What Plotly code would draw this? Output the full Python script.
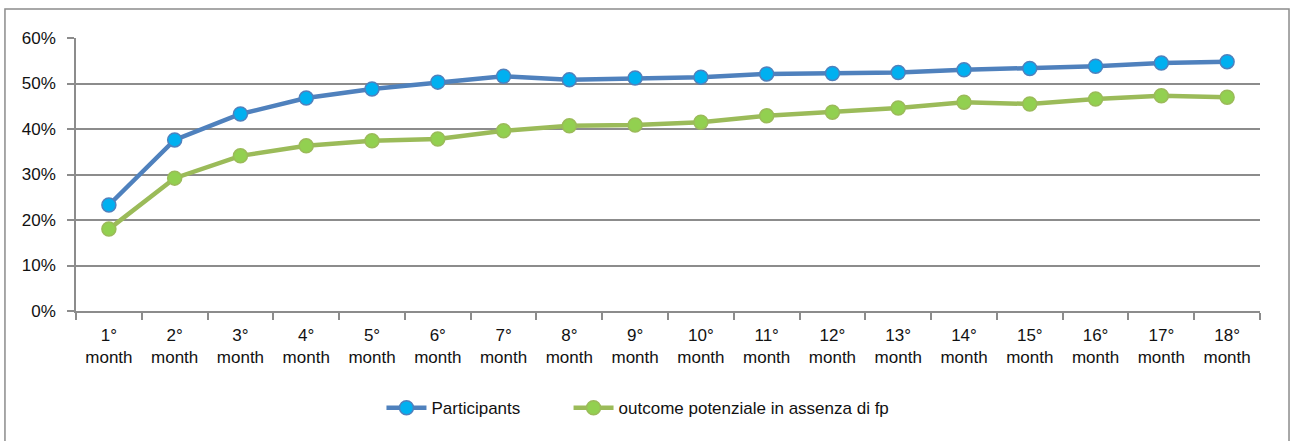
import plotly.graph_objects as go

months = [f"{i}°<br>month" for i in range(1, 19)]
participants = [23.3, 37.6, 43.3, 46.8, 48.8, 50.3, 51.6, 50.8, 51.2, 51.4,
                52.1, 52.2, 52.4, 53.0, 53.3, 53.8, 54.5, 54.8]
outcome_no_fp = [18.0, 29.2, 34.1, 36.3, 37.4, 37.8, 39.6, 40.7, 40.9, 41.5,
                 42.9, 43.7, 44.6, 45.9, 45.5, 46.6, 47.3, 47.0]
y_ticks = [0, 10, 20, 30, 40, 50, 60]
y_tick_text = [f"{v}%" for v in y_ticks]

FONT = "Liberation Sans, Arial, sans-serif"
GRID = "#8c8c8c"
FS = 17

fig = go.Figure()
fig.add_trace(go.Scatter(
    x=months, y=participants, name="Participants", mode="lines+markers",
    line=dict(color="#4F81BD", width=4.5),
    marker=dict(size=14, color="#00B0F0", line=dict(color="#4F81BD", width=1.5)),
    legend="legend",
))
fig.add_trace(go.Scatter(
    x=months, y=outcome_no_fp, name="outcome potenziale in assenza di fp",
    mode="lines+markers",
    line=dict(color="#9BBB59", width=4.5),
    marker=dict(size=14, color="#92D050", line=dict(color="#9BBB59", width=1.5)),
    legend="legend2",
))

legend_common = dict(orientation="h", xanchor="left", y=-0.29, yanchor="top",
                     font=dict(size=FS), itemwidth=40, bgcolor="rgba(0,0,0,0)")

fig.update_layout(
    width=1292, height=441,
    margin=dict(l=76, r=32, t=38, b=130),
    paper_bgcolor="white", plot_bgcolor="white",
    font=dict(family=FONT, size=FS, color="#111111"),
    showlegend=True,
    legend=dict(x=0.258, **legend_common),
    legend2=dict(x=0.416, **legend_common),
    xaxis=dict(
        type="category", tickson="boundaries", ticks="outside", ticklen=7,
        tickcolor=GRID, tickwidth=1.5, showline=True, linecolor=GRID, linewidth=1.5,
        showgrid=False, range=[-0.5, 17.5], tickfont=dict(size=FS),
        ticklabelstandoff=8,
    ),
    yaxis=dict(
        range=[0, 60], tickvals=y_ticks, ticktext=y_tick_text,
        ticks="outside", ticklen=7, tickcolor=GRID, tickwidth=1.5,
        showline=True, linecolor=GRID, linewidth=1.5,
        showgrid=True, gridcolor=GRID, gridwidth=1.5, zeroline=False,
        tickfont=dict(size=FS), ticklabelstandoff=8,
    ),
    shapes=[dict(type="rect", xref="paper", yref="paper",
                 x0=-0.06, x1=1.0245, y0=-0.5, y1=1.106,
                 line=dict(color="#8c8c8c", width=1.5), layer="below")],
)

fig.write_html("out.html")
